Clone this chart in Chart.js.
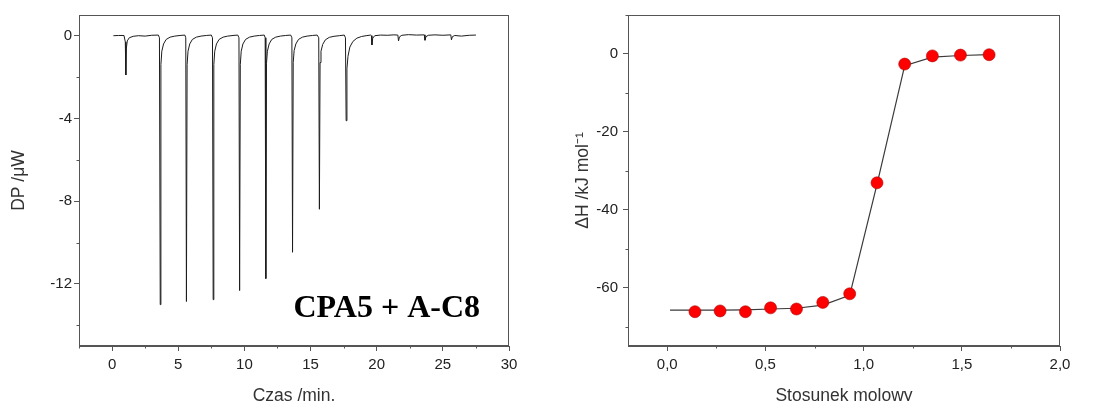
<!DOCTYPE html>
<html>
<head>
<meta charset="utf-8">
<script src="https://cdn.jsdelivr.net/npm/chart.js@4.4.0/dist/chart.umd.min.js"></script>
<style>
  html, body { margin: 0; padding: 0; background: #fff; overflow: hidden; }
  .panel { position: absolute; top: 0; width: 548px; height: 401px; }
</style>
</head>
<body>
<div class="panel" style="left:0"><canvas id="rawChart" width="548" height="401"></canvas></div>
<div class="panel" style="left:548px"><canvas id="isoChart" width="548" height="401"></canvas></div>
<script>
// Raw thermogram (left panel)
const timeMin = [
  0.10, 0.50, 0.90, 1.00, 1.04, 1.08, 1.15, 1.30, 1.60, 2.00, 2.50, 3.00, 3.50,
  3.58, 3.64, 3.69, 3.76, 3.89, 4.09, 4.39, 4.74, 5.14, 5.50,
  5.57, 5.62, 5.67, 5.74, 5.87, 6.07, 6.37, 6.72, 7.12, 7.50,
  7.59, 7.64, 7.69, 7.76, 7.89, 8.09, 8.39, 8.74, 9.14, 9.50,
  9.59, 9.64, 9.69, 9.76, 9.89, 10.09, 10.39, 10.74, 11.14, 11.50,
  11.57, 11.62, 11.67, 11.74, 11.87, 12.07, 12.37, 12.72, 13.12, 13.50,
  13.59, 13.64, 13.69, 13.76, 13.89, 14.09, 14.39, 14.74, 15.14, 15.50,
  15.62, 15.67, 15.72, 15.79, 15.92, 16.12, 16.42, 16.77, 17.17, 17.55,
  17.64, 17.69, 17.75, 17.83, 17.97, 18.20, 18.50, 18.85, 19.20, 19.55,
  19.60, 19.64, 19.70, 19.85, 20.30, 20.80, 21.30, 21.60,
  21.65, 21.72, 21.90, 22.40, 23.00, 23.60,
  23.65, 23.72, 23.90, 24.40, 25.00, 25.60,
  25.65, 25.72, 25.90, 26.40, 27.00, 27.50
];
const dpMicroW = [
  0.00, 0.01, 0.01, -0.30, -1.90, -0.60, -0.25, -0.10, -0.03, 0.00, -0.02, 0.02, 0.03,
  -0.10, -13.00, -1.40, -0.75, -0.40, -0.18, -0.07, -0.02, 0.01, 0.03,
  -0.10, -12.85, -1.40, -0.75, -0.40, -0.18, -0.07, -0.02, 0.01, 0.03,
  -0.10, -12.76, -1.40, -0.75, -0.40, -0.18, -0.07, -0.02, 0.01, 0.03,
  -0.10, -12.32, -1.40, -0.75, -0.40, -0.18, -0.07, -0.02, 0.01, 0.03,
  -0.10, -11.74, -1.35, -0.75, -0.40, -0.18, -0.07, -0.02, 0.01, 0.03,
  -0.10, -10.47, -1.30, -0.72, -0.40, -0.18, -0.07, -0.02, 0.01, 0.03,
  -0.10, -8.39, -1.30, -0.75, -0.42, -0.20, -0.08, -0.03, 0.00, 0.03,
  -0.10, -4.11, -1.60, -1.00, -0.55, -0.28, -0.12, -0.04, 0.00, 0.03,
  0.00, -0.45, -0.12, 0.00, 0.03, 0.02, 0.04, 0.03,
  -0.25, -0.06, 0.02, 0.05, 0.03, 0.04,
  -0.22, -0.05, 0.02, 0.04, 0.02, 0.04,
  -0.20, -0.05, 0.01, -0.02, 0.02, 0.03
];
const rawXTicks = [0, 5, 10, 15, 20, 25, 30];
const rawXMinor = [-2.5, 2.5, 7.5, 12.5, 17.5, 22.5, 27.5];
const rawYTicks = [0, -4, -8, -12];
const rawYMinor = [-2, -6, -10, -14];

// Integrated heats (right panel)
const molarRatio = [0.141, 0.269, 0.398, 0.526, 0.658, 0.792, 0.929, 1.068, 1.209, 1.350, 1.493, 1.639];
const deltaH = [-66.2, -66.0, -66.2, -65.2, -65.5, -63.8, -61.6, -33.1, -2.6, -0.5, -0.3, -0.2];
const fitRatio = [0.014, 0.141, 0.269, 0.398, 0.526, 0.658, 0.792, 0.929, 1.068, 1.209, 1.350, 1.493, 1.639];
const fitDeltaH = [-65.8, -65.8, -65.8, -65.7, -65.5, -65.3, -64.5, -62.0, -33.5, -3.0, -0.8, -0.4, -0.2];
const isoXTicks = [0, 0.5, 1.0, 1.5, 2.0];
const isoXMinor = [0.25, 0.75, 1.25, 1.75];
const isoYTicks = [0, -20, -40, -60];
const isoYMinor = [10, -10, -30, -50, -70];

Chart.defaults.font.family = '"Liberation Sans", Arial, sans-serif';
Chart.defaults.animation = false;

const axisColor = '#555';

// frame on all four sides, minor ticks and the sample label
const framePlugin = {
  id: 'frame',
  afterDraw(chart, args, opts) {
    const { ctx, chartArea: a, scales } = chart;
    ctx.save();
    ctx.strokeStyle = axisColor;
    ctx.lineWidth = 1;
    const l = Math.round(a.left) + 0.5, t = Math.round(a.top) + 0.5;
    const r = Math.round(a.right) - 0.5, b = Math.round(a.bottom) - 0.5;
    ctx.strokeRect(l, t, r - l, b - t);
    ctx.beginPath();
    opts.xMinor.forEach(v => {
      const px = Math.round(scales.x.getPixelForValue(v)) + 0.5;
      ctx.moveTo(px, b); ctx.lineTo(px, b + 3);
    });
    opts.yMinor.forEach(v => {
      const py = Math.round(scales.y.getPixelForValue(v)) + 0.5;
      ctx.moveTo(l, py); ctx.lineTo(l - 3, py);
    });
    ctx.stroke();
    if (opts.label) {
      ctx.fillStyle = '#000';
      ctx.font = 'bold 32px "Liberation Serif", "Times New Roman", serif';
      ctx.textAlign = 'right';
      ctx.textBaseline = 'alphabetic';
      ctx.fillText(opts.label, a.right - 29, a.bottom - 29);
    }
    ctx.restore();
  }
};

function xAxis(min, max, ticks, fmt, title) {
  return {
    type: 'linear', min: min, max: max,
    afterBuildTicks: s => { s.ticks = ticks.map(v => ({ value: v })); },
    afterFit: s => { s.height = 55; },
    ticks: { color: '#222', font: { size: 15 }, padding: 5, maxRotation: 0, autoSkip: false, callback: fmt },
    grid: { drawOnChartArea: false, drawTicks: true, tickLength: 5, tickColor: axisColor },
    border: { color: axisColor },
    title: { display: true, text: title, color: '#333', font: { size: 17.5, lineHeight: 1 }, padding: { top: 0, bottom: -4 } }
  };
}

function yAxis(min, max, ticks, width, pad, titlePad, title) {
  return {
    type: 'linear', min: min, max: max,
    afterBuildTicks: s => { s.ticks = ticks.map(v => ({ value: v })); },
    afterFit: s => { s.width = width; },
    ticks: { color: '#222', font: { size: 15 }, padding: pad, autoSkip: false, callback: v => String(v) },
    grid: { drawOnChartArea: false, drawTicks: true, tickLength: 5, tickColor: axisColor },
    border: { color: axisColor },
    title: { display: true, text: title, color: '#333', font: { size: 17.5, lineHeight: 1 }, padding: { top: titlePad, bottom: 0 } }
  };
}

new Chart(document.getElementById('rawChart'), {
  type: 'line',
  data: {
    datasets: [{
      data: timeMin.map((t, i) => ({ x: t, y: dpMicroW[i] })),
      borderColor: '#1c1c1c',
      borderWidth: 1,
      borderJoinStyle: 'round',
      pointRadius: 0,
      tension: 0
    }]
  },
  options: {
    responsive: false,
    events: [],
    layout: { padding: { top: 15, right: 39, left: 0, bottom: 0 } },
    plugins: {
      legend: { display: false },
      tooltip: { enabled: false },
      frame: { xMinor: rawXMinor, yMinor: rawYMinor, label: 'CPA5 + A-C8' }
    },
    scales: {
      x: xAxis(-2.5, 30, rawXTicks, v => String(v), 'Czas /min.'),
      y: yAxis(-15, 1, rawYTicks, 79, 2, 10.5, 'DP /\u03BCW')
    }
  },
  plugins: [framePlugin]
});

new Chart(document.getElementById('isoChart'), {
  type: 'scatter',
  data: {
    datasets: [{
      data: molarRatio.map((x, i) => ({ x: x, y: deltaH[i] })),
      pointRadius: 6,
      pointBackgroundColor: '#ff0000',
      pointBorderColor: '#b00000',
      pointBorderWidth: 0.6,
      order: 0
    }, {
      type: 'line',
      data: fitRatio.map((x, i) => ({ x: x, y: fitDeltaH[i] })),
      borderColor: '#3a3a3a',
      borderWidth: 1.2,
      pointRadius: 0,
      tension: 0,
      order: 1
    }]
  },
  options: {
    responsive: false,
    events: [],
    layout: { padding: { top: 15, right: 36, left: 0, bottom: 0 } },
    plugins: {
      legend: { display: false },
      tooltip: { enabled: false },
      frame: { xMinor: isoXMinor, yMinor: isoYMinor }
    },
    scales: {
      x: xAxis(-0.2, 2.0, isoXTicks, v => v.toFixed(1).replace('.', ','), 'Stosunek molowy'),
      y: yAxis(-75, 10, isoYTicks, 80, 5, 26.5, '\u0394H /kJ mol\u207B\u00B9')
    }
  },
  plugins: [framePlugin]
});
</script>
</body>
</html>
